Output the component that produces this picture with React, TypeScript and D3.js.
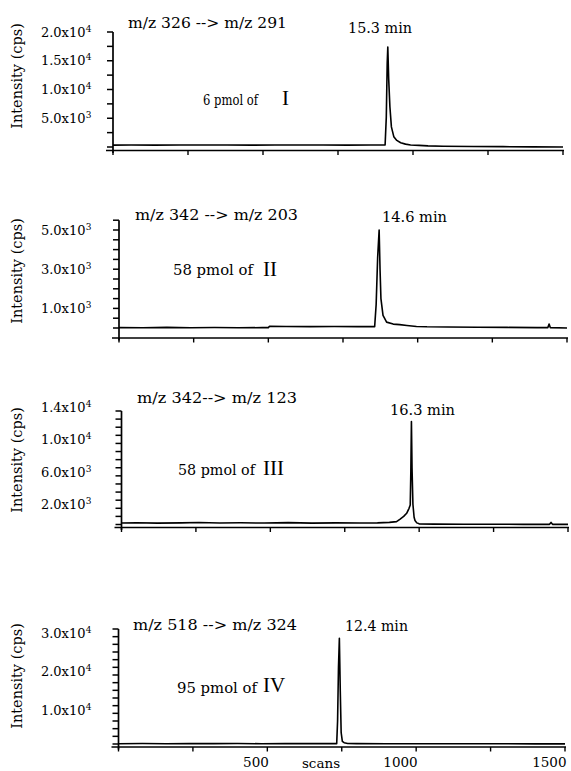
import React from "react";
import * as d3 from "d3";

// Selected-reaction-monitoring chromatograms: scan number vs. intensity (cps)
const scansI = [0, 60, 140, 220, 300, 380, 460, 540, 620, 700, 780, 860, 907, 911, 914, 916, 919, 923, 928, 936, 946, 959, 975, 992, 1020, 1050, 1100, 1200, 1300, 1400, 1500];
const cpsI = [330, 360, 320, 350, 340, 360, 330, 350, 340, 360, 330, 350, 340, 5200, 14500, 17400, 11800, 7000, 3500, 1800, 1150, 750, 500, 350, 280, 200, 130, 90, 60, 30, 0];

const scansII = [0, 80, 160, 240, 320, 400, 480, 500, 504, 560, 640, 720, 800, 856, 861, 866, 871, 874, 877, 884, 896, 918, 940, 964, 996, 1031, 1100, 1200, 1300, 1400, 1436, 1440, 1444, 1500];
const cpsII = [20, 10, 30, 15, 25, 10, 20, 20, 90, 80, 70, 80, 70, 70, 1200, 3600, 5000, 3000, 1500, 640, 300, 200, 170, 130, 80, 60, 50, 40, 30, 20, 20, 200, 20, 0];

const scansIII = [0, 50, 120, 200, 260, 330, 400, 480, 560, 640, 720, 800, 860, 900, 924, 935, 948, 958, 966, 970, 972, 974, 976, 979, 983, 986, 992, 1000, 1050, 1150, 1250, 1350, 1438, 1443, 1448, 1500];
const cpsIII = [180, 210, 170, 200, 240, 190, 210, 180, 230, 170, 200, 190, 200, 260, 350, 640, 1000, 1380, 2000, 2400, 6500, 12700, 7000, 2500, 900, 500, 200, 80, 50, 40, 30, 20, 20, 260, 20, 10];

const scansIV = [0, 80, 160, 240, 320, 400, 480, 560, 640, 720, 733, 736, 739, 742, 745, 748, 752, 758, 770, 800, 900, 1000, 1100, 1200, 1300, 1400, 1500];
const cpsIV = [80, 120, 60, 100, 90, 120, 70, 100, 90, 100, 100, 6000, 20000, 27600, 14000, 3000, 700, 350, 150, 100, 80, 60, 70, 50, 60, 40, 30];

const transitions = ["m/z 326 --> m/z 291", "m/z 342 --> m/z  203", "m/z 342--> m/z 123", "m/z 518 -->  m/z 324"];
const retentionTimes = ["15.3 min", "14.6 min", "16.3 min", "12.4 min"];
const amounts = ["6 pmol of", "58 pmol of", "58 pmol of", "95 pmol of"];
const compounds = ["I", "II", "III", "IV"];

const yMaxima = [20000, 5500, 14000, 30000];
const yMinorSteps = [2500, 500, 1000, 2000];
const yLabeled = [
  [5000, 10000, 15000, 20000],
  [1000, 3000, 5000],
  [2000, 6000, 10000, 14000],
  [10000, 20000, 30000],
];
const scanTicks = [0, 250, 500, 750, 1000, 1250, 1500];
const scanLabels = [500, 1000, 1500];

const scanSeries = [scansI, scansII, scansIII, scansIV];
const cpsSeries = [cpsI, cpsII, cpsIII, cpsIV];

// Panel geometry (pixels)
const frames = [
  { left: 113, right: 563, top: 32, zero: 147, axisY: 150.5, labelDy: 4.5, yTitleCy: 76,
    title: [128, 28, 159], time: [348, 33, 64], amount: [203, 105, 55], cmpd: [282, 105] },
  { left: 119, right: 567, top: 220.2, zero: 328, axisY: 338, labelDy: 4.5, yTitleCy: 271,
    title: [135, 220, 163], time: [382, 222, 65], amount: [173, 275, 80], cmpd: [263, 276] },
  { left: 121.5, right: 568, top: 411, zero: 524.5, axisY: 527.5, labelDy: 1, yTitleCy: 460,
    title: [137, 403, 160], time: [390, 415, 65], amount: [178, 475, 77], cmpd: [263, 475] },
  { left: 118.5, right: 565, top: 629, zero: 744, axisY: 747, labelDy: 9, yTitleCy: 676,
    title: [133, 629.5, 164], time: [345, 630.5, 63], amount: [177, 693, 80], cmpd: [263, 692] },
];

const FONT = "'DejaVu Serif', 'Liberation Serif', serif";

function sciParts(v: number): [string, string] {
  const e = Math.floor(Math.log10(v));
  const m = v / Math.pow(10, e);
  return [`${m.toFixed(1)}x10`, String(e)];
}

function Panel({ i }: { i: number }) {
  const f = frames[i];
  const x = d3.scaleLinear().domain([0, 1500]).range([f.left, f.right]);
  const y = d3.scaleLinear().domain([0, yMaxima[i]]).range([f.zero, f.top]);
  const pts: [number, number][] = scanSeries[i].map((s, k) => [s, cpsSeries[i][k]]);
  const line = d3
    .line<[number, number]>()
    .x((d) => x(d[0]))
    .y((d) => y(d[1]));
  const minor = d3.range(0, yMaxima[i] + 1, yMinorSteps[i]);

  return (
    <g>
      {/* y axis */}
      <line x1={f.left} x2={f.left} y1={f.top} y2={f.axisY + 2.5} stroke="#000" strokeWidth={1.7} />
      {minor.map((v) => (
        <line key={v} x1={f.left - 6} x2={f.left} y1={y(v)} y2={y(v)} stroke="#000" strokeWidth={1.5} />
      ))}
      {yLabeled[i].map((v) => {
        const [main, exp] = sciParts(v);
        const yy = y(v) + f.labelDy;
        return (
          <g key={v}>
            <text x={85.5} y={yy} textAnchor="end" fontSize={13} fontFamily={FONT}>
              {main}
            </text>
            <text x={85.8} y={yy - 5} fontSize={9} fontFamily={FONT}>
              {exp}
            </text>
          </g>
        );
      })}
      <text
        transform={`translate(22,${f.yTitleCy}) rotate(-90)`}
        textAnchor="middle"
        fontSize={14.5}
        fontFamily={FONT}
      >
        Intensity (cps)
      </text>

      {/* x axis */}
      <line x1={f.left - 7} x2={f.right + 1} y1={f.axisY} y2={f.axisY} stroke="#000" strokeWidth={1.7} />
      {scanTicks.map((s) => (
        <line key={s} x1={x(s)} x2={x(s)} y1={f.axisY} y2={f.axisY + 4.5} stroke="#000" strokeWidth={1.4} />
      ))}

      {/* trace */}
      <path d={line(pts) || ""} fill="none" stroke="#000" strokeWidth={1.6} strokeLinejoin="round" />

      {/* annotations */}
      <text x={f.title[0]} y={f.title[1]} textLength={f.title[2]} lengthAdjust="spacingAndGlyphs" fontSize={14} fontFamily={FONT}>
        {transitions[i]}
      </text>
      <text x={f.time[0]} y={f.time[1]} textLength={f.time[2]} lengthAdjust="spacingAndGlyphs" fontSize={15} fontFamily={FONT}>
        {retentionTimes[i]}
      </text>
      <text x={f.amount[0]} y={f.amount[1]} textLength={f.amount[2]} lengthAdjust="spacingAndGlyphs" fontSize={14} fontFamily={FONT}>
        {amounts[i]}
      </text>
      <text x={f.cmpd[0]} y={f.cmpd[1]} fontSize={21} fontFamily="'Liberation Serif', serif">
        {compounds[i]}
      </text>
    </g>
  );
}

export default function App() {
  const last = frames[3];
  const x = d3.scaleLinear().domain([0, 1500]).range([last.left, last.right]);
  return (
    <svg
      width={571}
      height={771}
      style={{ position: "absolute", left: 0, top: 0, background: "#fff" }}
    >
      <rect width={571} height={771} fill="#fff" />
      {frames.map((_, i) => (
        <Panel key={i} i={i} />
      ))}
      {scanLabels.map((s) => (
        <text key={s} x={x(s) + 1.5} y={767} textAnchor="end" fontSize={13.5} fontFamily={FONT}>
          {s}
        </text>
      ))}
      <text x={321} y={768} textAnchor="middle" fontSize={13.5} fontFamily={FONT}>
        scans
      </text>
    </svg>
  );
}
